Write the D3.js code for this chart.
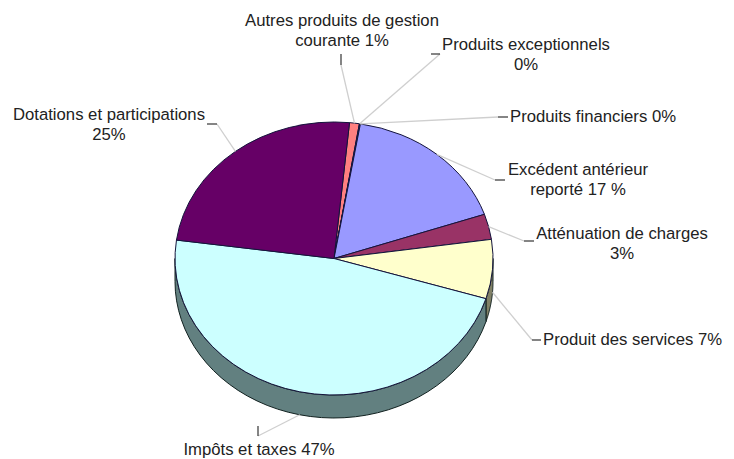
<!DOCTYPE html>
<html lang="fr">

<head>
    <meta charset="UTF-8">
    <script src="https://d3js.org/d3.v7.min.js"></script>
    <title>Recettes</title>
    <style>
        html, body { margin: 0; padding: 0; background: #fff; }
        text { font-family: "Liberation Sans", Arial, sans-serif; font-size: 16.7px; fill: #222; }
    </style>
</head>

<body>
    <div id="chart"></div>
    <script>
        // Data, clockwise from the top of the pie
        const categories = ["Autres produits de gestion courante", "Produits exceptionnels", "Produits financiers",
            "Excédent antérieur reporté", "Atténuation de charges", "Produit des services", "Impôts et taxes",
            "Dotations et participations"];
        const values = [1, 0.05, 0.05, 17.1, 3, 7, 47.4, 24.4];
        const labelLines = [
            ["Autres produits de gestion", "courante 1%"],
            ["Produits exceptionnels", "0%"],
            ["Produits financiers 0%"],
            ["Excédent antérieur", "reporté 17 %"],
            ["Atténuation de charges", "3%"],
            ["Produit des services 7%"],
            ["Impôts et taxes 47%"],
            ["Dotations et participations", "25%"]
        ];

        // Layout
        const width = 734;
        const height = 459;
        const cx = 334;
        const cy = 258.5;
        const rx = 159;
        const ry = 136.5;
        const depth = 23;
        const startAngle = 5.6 * Math.PI / 180;

        const colors = ["#ff8080", "#9999ff", "#9999ff", "#9999ff", "#993366", "#ffffcc", "#ccffff", "#660066"];
        const wallColors = ["#804040", "#4d4d80", "#4d4d80", "#4d4d80", "#4d1a33", "#808066", "#628080", "#330033"];
        const labelPos = [
            { x: 342, y: 26, anchor: "middle" },
            { x: 526, y: 50, anchor: "middle" },
            { x: 510, y: 122, anchor: "start" },
            { x: 578, y: 175, anchor: "middle" },
            { x: 622, y: 239, anchor: "middle" },
            { x: 543, y: 345, anchor: "start" },
            { x: 259, y: 455, anchor: "middle" },
            { x: 109, y: 120, anchor: "middle" }
        ];
        // leader: outer end of the grey line, then the dark tick
        const leaders = [
            { end: [341, 65], tick: [341, 54] },
            { end: [440, 54], tick: [431, 54] },
            { end: [498, 117], tick: [508, 117] },
            { end: [495, 180], tick: [505, 180] },
            { end: [524, 241], tick: [534, 241] },
            { end: [532, 340], tick: [541, 340] },
            { end: [258, 436], tick: [258, 426] },
            { end: [217, 124], tick: [207, 124] }
        ];

        const svg = d3.select("#chart")
            .append("svg")
            .attr("width", width)
            .attr("height", height);

        const pie = d3.pie()
            .sort(null)
            .value(d => d)
            .startAngle(startAngle)
            .endAngle(startAngle + 2 * Math.PI);
        const slices = pie(values);

        // angle 0 is up, clockwise
        const ellipsePoint = (a, dy = 0) => [cx + rx * Math.sin(a), cy - ry * Math.cos(a) + dy];

        // Side wall, only where the slice faces the front
        const wallLine = d3.line();
        slices.forEach((s, i) => {
            const from = Math.max(s.startAngle, Math.PI / 2);
            const to = Math.min(s.endAngle, 3 * Math.PI / 2);
            if (to <= from) return;
            const top = d3.range(0, 41).map(k => ellipsePoint(from + (to - from) * k / 40));
            const bottom = top.map(p => [p[0], p[1] + depth]).reverse();
            svg.append("path")
                .attr("d", wallLine(top.concat(bottom)) + "Z")
                .attr("fill", wallColors[i])
                .attr("stroke", "#10201f")
                .attr("stroke-width", 1);
        });

        // Top face: circular arcs squashed into the ellipse
        const arc = d3.arc().innerRadius(0).outerRadius(rx);
        svg.append("g")
            .attr("transform", `translate(${cx},${cy}) scale(1,${ry / rx})`)
            .selectAll("path")
            .data(slices)
            .join("path")
            .attr("d", arc)
            .attr("fill", (d, i) => colors[i])
            .attr("stroke", "#14143c")
            .attr("stroke-width", 1)
            .attr("vector-effect", "non-scaling-stroke");

        // Leader lines
        const leaderGroup = svg.append("g");
        slices.forEach((s, i) => {
            const mid = (s.startAngle + s.endAngle) / 2;
            const front = mid > Math.PI / 2 && mid < 3 * Math.PI / 2;
            const p = ellipsePoint(mid, front ? depth : 0);
            leaderGroup.append("line")
                .attr("x1", p[0]).attr("y1", p[1])
                .attr("x2", leaders[i].end[0]).attr("y2", leaders[i].end[1])
                .attr("stroke", "#cfcfcf")
                .attr("stroke-width", 1.3);
            leaderGroup.append("line")
                .attr("x1", leaders[i].end[0]).attr("y1", leaders[i].end[1])
                .attr("x2", leaders[i].tick[0]).attr("y2", leaders[i].tick[1])
                .attr("stroke", "#333")
                .attr("stroke-width", 1.2);
        });

        // Labels
        svg.append("g")
            .selectAll("text")
            .data(labelLines)
            .join("text")
            .attr("text-anchor", (d, i) => labelPos[i].anchor)
            .each(function (lines, i) {
                d3.select(this).selectAll("tspan")
                    .data(lines)
                    .join("tspan")
                    .attr("x", labelPos[i].x)
                    .attr("y", (d, k) => labelPos[i].y + k * 20)
                    .text(d => d);
            });
    </script>
</body>

</html>
